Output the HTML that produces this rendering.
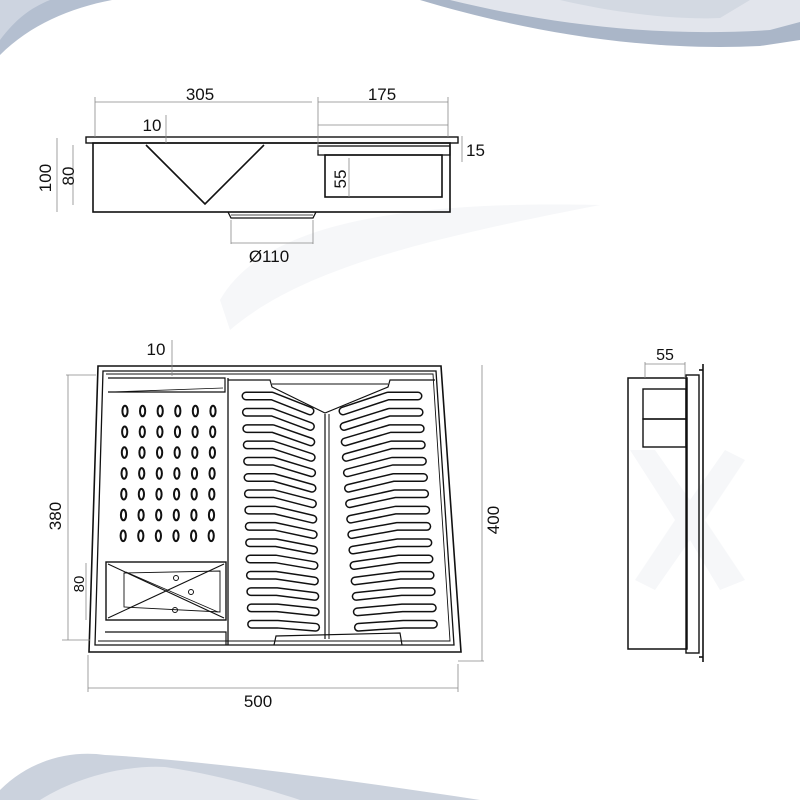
<!DOCTYPE html>
<html><head><meta charset="utf-8"><style>
html,body{margin:0;padding:0;background:#fff;}
svg{display:block}
text{font-family:"Liberation Sans",sans-serif;fill:#111;}
</style></head><body>
<svg id="s" width="800" height="800" viewBox="0 0 800 800" xmlns="http://www.w3.org/2000/svg">
<!-- background waves -->
<path d="M0,55 C30,25 70,8 112,0 L0,0 Z" fill="#b4bfd0"/>
<path d="M0,40 C15,20 30,8 50,0 L0,0Z" fill="#cdd4e0"/>
<path d="M420,0 C520,30 640,52 760,46 L800,40 L800,0 Z" fill="#aab6c8"/>
<path d="M450,0 C540,22 650,38 770,30 L800,22 L800,0 Z" fill="#e2e5ec"/>
<path d="M560,0 C620,14 680,20 720,18 L750,0 Z" fill="#d3d9e2"/>
<path d="M0,800 L0,790 C30,760 70,750 105,755 C200,760 350,780 480,800 Z" fill="#cbd2dd"/>
<path d="M40,800 C80,775 130,765 165,767 C220,775 270,790 300,800 Z" fill="#e5e8ee"/>
<!-- faint watermark -->
<g fill="#f6f7f9">
<path d="M220,300 C260,230 380,200 600,205 C420,240 300,270 230,330 Z"/>
<path d="M630,450 L655,450 L690,500 L725,450 L745,460 L705,520 L745,580 L720,590 L690,540 L655,590 L635,580 L675,520 Z"/>
</g>
<g fill="none" stroke="#111" stroke-width="1.6">
<!-- top view -->
<rect x="86" y="137" width="372" height="6" stroke-width="1.4"/>
<rect x="93" y="143" width="357" height="69"/>
<path d="M146,145 L205,204 L264,145"/>
<path d="M228,212 L231,218 L313,218 L316,212" stroke-width="1.3"/>
<line x1="231" y1="215" x2="313" y2="215" stroke-width="0.8"/>
<rect x="318" y="146" width="132" height="9" stroke-width="1.3"/>
<rect x="325" y="155" width="117" height="42"/>
<!-- front view -->
<path d="M98,366 L441,366 L461,652 L89,652 Z" stroke-width="1.6"/>
<path d="M103,371 L436,371 L454,645 L95,645 Z" stroke-width="1.3"/>
<path d="M106,374 L433,374 L450,641 L98,641" stroke-width="0.9"/>
<path d="M108,378 L225,378 L225,392 L108,392" stroke-width="1.2"/>
<line x1="112" y1="392" x2="223" y2="388" stroke-width="0.8"/>
<line x1="228" y1="378" x2="228" y2="645" stroke-width="1.3"/>
<path d="M228,380 L270,380 L272,387 L325,413 L388,387 L390,380 L435,380" stroke-width="1.2"/>
<line x1="272" y1="384" x2="388" y2="384" stroke-width="0.9"/>
<line x1="325" y1="414" x2="325" y2="639" stroke-width="1.2"/>
<line x1="329" y1="414" x2="329" y2="639" stroke-width="1.0"/>
<path d="M274,645 L276,636 L400,633 L402,645" stroke-width="1.2"/>
<path d="M105,632 L226,632 L226,645" stroke-width="1.2"/>
<!-- basket -->
<rect x="106" y="562" width="120" height="58" stroke-width="1.4"/>
<path d="M124,573 L220,571 L220,612 L124,607 Z" stroke-width="0.9"/>
<line x1="108" y1="564" x2="224" y2="618" stroke-width="1.1"/>
<line x1="108" y1="618" x2="224" y2="564" stroke-width="1.1"/>
<line x1="126" y1="572" x2="218" y2="612" stroke-width="0.8"/>
<circle cx="176" cy="578" r="2.5" stroke-width="1"/>
<circle cx="191" cy="592" r="2.5" stroke-width="1"/>
<circle cx="175" cy="610" r="2.5" stroke-width="1"/>
<!-- side view -->
<rect x="628" y="378" width="59" height="271" stroke-width="1.5"/>
<rect x="686" y="375" width="13" height="278" stroke-width="1.4"/>
<line x1="703" y1="364" x2="703" y2="662" stroke-width="1.6"/>
<line x1="699" y1="370" x2="703" y2="370"/>
<line x1="699" y1="657" x2="703" y2="657"/>
<rect x="643" y="389" width="43" height="30" stroke-width="1.4"/>
<rect x="643" y="419" width="43" height="28" stroke-width="1.4"/>
</g>
<g id="holes" fill="none" stroke="#111" stroke-width="2"></g>
<g id="slots" fill="none" stroke-linecap="round" stroke-linejoin="round"></g>
<!-- dimension lines -->
<g stroke="#888" stroke-width="0.8" fill="none">
<line x1="95" y1="102" x2="312" y2="102"/><line x1="318" y1="102" x2="448" y2="102"/>
<line x1="318" y1="125" x2="448" y2="125"/>
<line x1="95" y1="97" x2="95" y2="137"/><line x1="318" y1="97" x2="318" y2="150"/><line x1="448" y1="97" x2="448" y2="137"/>
<line x1="166" y1="115" x2="166" y2="143"/>
<line x1="57" y1="138" x2="57" y2="212"/><line x1="73" y1="145" x2="73" y2="205"/>
<line x1="462" y1="136" x2="462" y2="162"/>
<line x1="349" y1="158" x2="349" y2="197"/>
<line x1="231" y1="220" x2="231" y2="244"/><line x1="313" y1="220" x2="313" y2="244"/>
<line x1="231" y1="243" x2="313" y2="243"/>
<line x1="172" y1="340" x2="172" y2="376"/>
<line x1="68" y1="375" x2="68" y2="640"/><line x1="66" y1="375" x2="96" y2="375"/><line x1="62" y1="640" x2="90" y2="640"/>
<line x1="86" y1="563" x2="86" y2="620"/>
<line x1="482" y1="365" x2="482" y2="661"/><line x1="458" y1="661" x2="484" y2="661"/>
<line x1="88" y1="688" x2="458" y2="688"/><line x1="88" y1="655" x2="88" y2="692"/><line x1="458" y1="664" x2="458" y2="692"/>
<line x1="645" y1="364" x2="685" y2="364"/><line x1="645" y1="362" x2="645" y2="378"/><line x1="685" y1="362" x2="685" y2="378"/>
</g>
<g font-size="17">
<text x="200" y="100" text-anchor="middle">305</text>
<text x="382" y="100" text-anchor="middle">175</text>
<text x="152" y="131" text-anchor="middle">10</text>
<text x="466" y="156">15</text>
<text transform="translate(51,178) rotate(-90)" text-anchor="middle">100</text>
<text transform="translate(74,176) rotate(-90)" text-anchor="middle">80</text>
<text transform="translate(346,179) rotate(-90)" text-anchor="middle">55</text>
<text x="269" y="262" text-anchor="middle">Ø110</text>
<text x="156" y="355" text-anchor="middle">10</text>
<text transform="translate(61,516) rotate(-90)" text-anchor="middle">380</text>
<text transform="translate(84,584) rotate(-90)" text-anchor="middle" font-size="15">80</text>
<text transform="translate(499,520) rotate(-90)" text-anchor="middle">400</text>
<text x="258" y="707" text-anchor="middle">500</text>
<text x="665" y="360" text-anchor="middle" font-size="16">55</text>
</g>
<script>
var ns="http://www.w3.org/2000/svg";
var h=document.getElementById("holes");
for(var r=0;r<7;r++)for(var c=0;c<6;c++){var e=document.createElementNS(ns,"ellipse");
e.setAttribute("cx",(125+c*17.6-r*0.3).toFixed(1));e.setAttribute("cy",(411+r*20.8).toFixed(1));
e.setAttribute("rx","2.6");e.setAttribute("ry","5.3");h.appendChild(e);}
var s=document.getElementById("slots");
function pl(d,w,col){var p=document.createElementNS(ns,"path");p.setAttribute("d",d);p.setAttribute("stroke",col);p.setAttribute("stroke-width",w);s.appendChild(p);}
for(var i=0;i<15;i++){var y=396+i*16.3,k=15-i*0.85,sh=i*0.4;
var d1="M"+(246+sh)+","+y+" L"+(272+sh)+","+y+" L"+(310+sh)+","+(y+k);
var s2=i*1.1;
var d2="M"+(343+s2)+","+(y+k)+" L"+(388+s2)+","+y+" L"+(418+s2)+","+y;
pl(d1,9,"#111");pl(d1,6,"#fff");pl(d2,9,"#111");pl(d2,6,"#fff");}
</script>
</svg>
</body></html>
